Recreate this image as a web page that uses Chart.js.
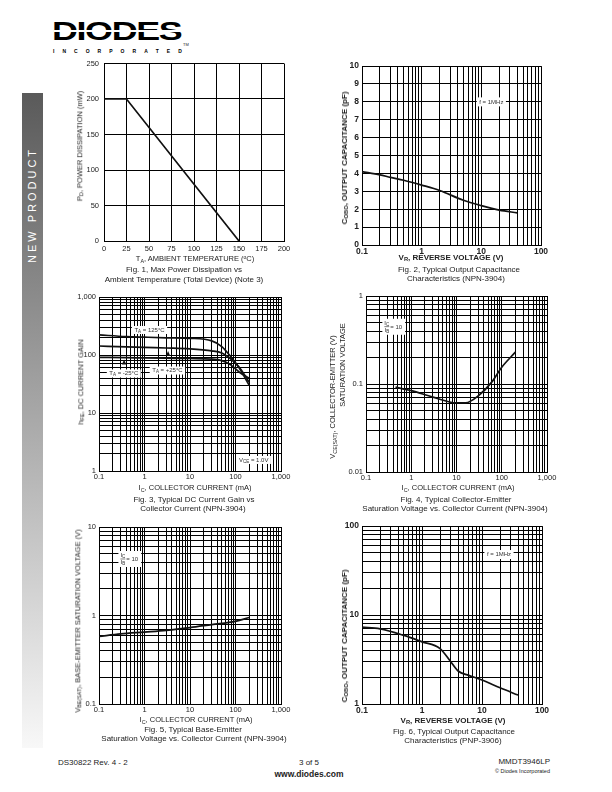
<!DOCTYPE html>
<html>
<head>
<meta charset="utf-8">
<script src="https://cdn.jsdelivr.net/npm/chart.js@4.4.0/dist/chart.umd.min.js"></script>
<style>
body { margin: 0; background: #fff; font-family: "Liberation Sans", Arial, sans-serif; color: #222; }
#page { position: relative; width: 612px; height: 792px; overflow: hidden; }
.t { position: absolute; white-space: nowrap; transform: translate(-50%, -50%); line-height: 1; }
.r { position: absolute; white-space: nowrap; transform: translate(-50%, -50%) rotate(-90deg); line-height: 1; }
sub { font-size: 72%; vertical-align: -0.25em; line-height: 0; }
sup { font-size: 65%; vertical-align: 0.45em; line-height: 0; }
canvas { position: absolute; }
</style>
</head>
<body>
<div id="page">
  <div style="position:absolute;left:22px;top:93px;width:21px;height:655px;background:linear-gradient(#5a5a5a,#f8f8f8)"></div>
  <div class="r" style="left:32px;top:205px;color:#fff;font-size:11px;letter-spacing:3px">NEW PRODUCT</div>

  <div style="position:absolute;left:52px;top:18px;font:900 26px/26px 'Liberation Sans',Arial,sans-serif;letter-spacing:-1px;transform:scaleX(1.38);transform-origin:left top;color:#000">DIODES</div>
  <div style="position:absolute;left:54px;top:30px;width:128px;height:1.5px;background:#fff"></div>
  <div style="position:absolute;left:53px;top:48px;width:129px;display:flex;justify-content:space-between;font:bold 5px 'Liberation Sans',Arial,sans-serif;color:#000">
    <span>I</span><span>N</span><span>C</span><span>O</span><span>R</span><span>P</span><span>O</span><span>R</span><span>A</span><span>T</span><span>E</span><span>D</span>
  </div>
  <div style="position:absolute;left:183px;top:42px;font-size:4px">TM</div>

  <div class="t" style="left:58px;top:763px;font-size:8px;transform:translate(0,-50%)">DS30822 Rev. 4 - 2</div>
  <div class="t" style="left:309px;top:763px;font-size:8px">3 of 5</div>
  <div class="t" style="left:309px;top:774px;font-size:8.5px;font-weight:bold">www.diodes.com</div>
  <div class="t" style="left:550px;top:762px;font-size:8px;transform:translate(-100%,-50%)">MMDT3946LP</div>
  <div class="t" style="left:550px;top:772px;font-size:5.5px;transform:translate(-100%,-50%)">© Diodes Incorporated</div>
</div>

<script>
// ---- data ----
// Fig 1
const tempC = [0, 25, 150];
const powerMW = [200, 200, 0];
const tempTicks = [0, 25, 50, 75, 100, 125, 150, 175, 200];
const powerTicks = [0, 50, 100, 150, 200, 250];

// Fig 2 (NPN-3904)
const vr2 = [0.1, 0.2, 0.3, 0.5, 1, 2, 5, 10, 20, 40];
const cobo2 = [4.1, 3.92, 3.78, 3.62, 3.35, 3.05, 2.5, 2.2, 1.95, 1.8];
const capTicks2 = [0, 1, 2, 3, 4, 5, 6, 7, 8, 9, 10];

// Fig 3 (NPN-3904)
const ic3 = [0.1, 0.4, 1, 3, 10, 30, 50, 80, 120, 200];
const hfe125 = [222, 208, 203, 198, 194, 175, 140, 92, 60, 30];
const hfe25 = [143, 138, 135, 132, 128, 118, 108, 84, 62, 34];
const hfeM25 = [91, 90, 89, 88, 87, 85, 80, 67, 51, 40];

// Fig 4 (NPN-3904)
const ic4 = [0.45, 1, 3, 10, 16, 30, 60, 100, 200];
const vceSat = [0.092, 0.084, 0.071, 0.061, 0.061, 0.073, 0.105, 0.155, 0.23];

// Fig 5 (NPN-3904)
const ic5 = [0.1, 0.3, 1, 3, 10, 30, 100, 200];
const vbeSat = [0.58, 0.62, 0.65, 0.68, 0.73, 0.79, 0.86, 0.95];

// Fig 6 (PNP-3906)
const vr6 = [0.1, 0.2, 0.5, 1, 2, 3, 4, 6, 10, 20, 40];
const cobo6 = [7.3, 7.0, 5.9, 5.0, 4.2, 3.0, 2.35, 2.1, 1.86, 1.52, 1.26];

// decade tick labels
const currentLabels = ['0.1', '1', '10', '100', '1,000'];
const voltLabels = ['0.1', '1', '10', '100'];
const hfeLabels = ['1', '10', '100', '1,000'];
const vceLabels = ['0.01', '0.1', '1'];
const vbeLabels = ['0.1', '1', '10'];
const cap6Labels = ['1', '10', '100'];

// ---- helpers ----
const page = document.getElementById('page');
const FONT = '"Liberation Sans", Arial, sans-serif';
const YW = 34, PT = 8, PR = 18, XH = 16;

function txt(html, x, y, size, opts = {}) {
  const d = document.createElement('div');
  d.className = opts.rot ? 'r' : 't';
  d.style.left = x + 'px';
  d.style.top = y + 'px';
  d.style.fontSize = size + 'px';
  if (opts.bold) d.style.fontWeight = 'bold';
  d.innerHTML = html;
  page.appendChild(d);
}

const num = s => parseFloat(s.replace(/,/g, ''));

// grid values of a log axis: 1..9 within each decade
function logGrid(labels) {
  const dec = labels.map(num), out = [];
  for (let i = 0; i < dec.length - 1; i++)
    for (let m = 1; m < 10; m++) out.push(+(dec[i] * m).toPrecision(4));
  out.push(dec[dec.length - 1]);
  return out;
}

function axis(isX, type, labels, gridVals, font, pad) {
  const vals = labels.map(l => typeof l === 'number' ? l : num(l));
  const text = labels.map(String);
  return {
    type: type,
    min: vals[0],
    max: vals[vals.length - 1],
    afterBuildTicks: s => { s.ticks = gridVals.map(v => ({ value: v })); },
    afterFit: s => { if (isX) s.height = XH; else s.width = YW; },
    ticks: {
      autoSkip: false, maxRotation: 0, minRotation: 0, padding: pad, font: font, color: '#222',
      callback: v => {
        const i = vals.findIndex(d => Math.abs(d - v) <= Math.abs(d) * 1e-6 + 1e-12);
        return i >= 0 ? text[i] : '';
      }
    },
    grid: { color: '#000', lineWidth: 1, drawTicks: false },
    border: { color: '#000', width: 1 }
  };
}

function series(xs, ys, smooth) {
  return {
    data: xs.map((x, i) => ({ x: x, y: ys[i] })),
    borderColor: '#111', borderWidth: 1.7, pointRadius: 0, fill: false,
    cubicInterpolationMode: smooth ? 'monotone' : 'default', tension: 0
  };
}

// small labels drawn inside the plots, anchored in data units
const notesPlugin = {
  id: 'notes',
  afterDatasetsDraw(chart, args, opts) {
    const ctx = chart.ctx, sx = chart.scales.x, sy = chart.scales.y;
    const fs = 6;
    const parts = s => s.split(/(_\{[^}]*\})/).filter(p => p).map(p =>
      p.startsWith('_{') ? { t: p.slice(2, -1), sub: true } : { t: p, sub: false });
    const width = ps => ps.reduce((w, p) => {
      ctx.font = (p.sub ? fs * 0.75 : fs) + 'px ' + FONT;
      return w + ctx.measureText(p.t).width;
    }, 0);
    const draw = (ps, x, y) => {
      ps.forEach(p => {
        ctx.font = (p.sub ? fs * 0.75 : fs) + 'px ' + FONT;
        ctx.fillText(p.t, x, p.sub ? y + 1.5 : y);
        x += ctx.measureText(p.t).width;
      });
    };
    ctx.save();
    ctx.textBaseline = 'middle';
    ctx.textAlign = 'left';
    (opts.items || []).forEach(n => {
      const cx = sx.getPixelForValue(n.x), cy = sy.getPixelForValue(n.y);
      if (n.arrow) {
        ctx.fillStyle = '#111';
        ctx.beginPath();
        ctx.moveTo(cx, cy);
        ctx.lineTo(cx - 2.2, cy + 5);
        ctx.lineTo(cx + 2.2, cy + 5);
        ctx.closePath();
        ctx.fill();
        return;
      }
      if (n.frac) {
        const a = parts(n.frac[0]), b = parts(n.frac[1]), c = parts(n.frac[2]);
        const wa = Math.max(width(a), width(b)), wc = width(c);
        const W = wa + wc + 6, H = 16;
        ctx.fillStyle = '#fff';
        ctx.fillRect(cx - W / 2, cy - H / 2, W, H);
        ctx.fillStyle = '#333';
        const x0 = cx - W / 2 + 2;
        draw(a, x0 + (wa - width(a)) / 2, cy - 3.8);
        draw(b, x0 + (wa - width(b)) / 2, cy + 3.2);
        ctx.fillRect(x0, cy - 0.3, wa, 0.6);
        draw(c, x0 + wa + 1, cy + 0.5);
        return;
      }
      const ps = parts(n.text), W = width(ps) + 5, H = n.h || 8;
      ctx.fillStyle = '#fff';
      ctx.fillRect(cx - W / 2, cy - H / 2, W, H);
      ctx.fillStyle = '#333';
      draw(ps, cx - W / 2 + 2.5, cy);
    });
    ctx.restore();
  }
};

function makeChart(area, datasets, xAxis, yAxis, notes) {
  const cv = document.createElement('canvas');
  const w = area.w + YW + PR, h = area.h + PT + XH;
  cv.width = w; cv.height = h;
  cv.style.left = (area.x - YW) + 'px';
  cv.style.top = (area.y - PT) + 'px';
  cv.style.width = w + 'px';
  cv.style.height = h + 'px';
  page.appendChild(cv);
  new Chart(cv.getContext('2d'), {
    type: 'line',
    data: { datasets: datasets },
    options: {
      responsive: false, animation: false, devicePixelRatio: 1,
      layout: { padding: { top: PT, right: PR, left: 0, bottom: 0 } },
      plugins: { legend: { display: false }, tooltip: { enabled: false }, notes: { items: notes || [] } },
      scales: { x: xAxis, y: yAxis }
    },
    plugins: [notesPlugin]
  });
}

const reg = { size: 7.5, family: FONT };
const bold = { size: 8.5, family: FONT, weight: 'bold' };

// Fig 1
makeChart({ x: 104, y: 62, w: 180, h: 179 },
  [series(tempC, powerMW, false)],
  axis(true, 'linear', tempTicks, tempTicks, reg, 3),
  axis(false, 'linear', powerTicks, powerTicks, reg, 5));
txt('P<sub>D</sub>, POWER DISSIPATION (mW)', 80, 146, 7.5, { rot: true });
txt('T<sub>A</sub>, AMBIENT TEMPERATURE (<sup>o</sup>C)', 195, 259, 7.5);
txt('Fig. 1, Max Power Dissipation vs', 184, 270, 8);
txt('Ambient Temperature (Total Device) (Note 3)', 184, 280, 8);

// Fig 2
makeChart({ x: 362, y: 66, w: 179, h: 179 },
  [series(vr2, cobo2, true)],
  axis(true, 'logarithmic', voltLabels, logGrid(voltLabels), bold, 2),
  axis(false, 'linear', capTicks2, capTicks2, bold, 3),
  [{ x: 14.7, y: 8, text: 'f = 1MHz', h: 9 }]);
txt('C<sub>OBO</sub>, OUTPUT CAPACITANCE (pF)', 345, 158, 8, { rot: true, bold: true });
txt('V<sub>R</sub>, REVERSE VOLTAGE (V)', 451, 258, 8, { bold: true });
txt('Fig. 2, Typical Output Capacitance', 459, 270, 8);
txt('Characteristics (NPN-3904)', 456, 279, 8);

// Fig 3
makeChart({ x: 99, y: 297, w: 182, h: 174 },
  [series(ic3, hfe125, true), series(ic3, hfe25, true), series(ic3, hfeM25, true)],
  axis(true, 'logarithmic', currentLabels, logGrid(currentLabels), reg, 1),
  axis(false, 'logarithmic', hfeLabels, logGrid(hfeLabels), reg, 3),
  [
    { x: 1.29, y: 270, text: 'T_{A} = 125°C' },
    { x: 0.35, y: 48, text: 'T_{A} = -25°C' },
    { x: 3.19, y: 54, text: 'T_{A} = +25°C' },
    { x: 251, y: 1.55, text: 'V_{CE} = 1.0V' },
    { x: 0.356, y: 84, arrow: true },
    { x: 3.3, y: 117, arrow: true }
  ]);
txt('h<sub>FE</sub>, DC CURRENT GAIN', 81, 382, 7.5, { rot: true });
txt('I<sub>C</sub>, COLLECTOR CURRENT (mA)', 195, 488, 7.5);
txt('Fig. 3, Typical DC Current Gain vs', 194, 500, 8);
txt('Collector Current (NPN-3904)', 193, 509, 8);

// Fig 4
makeChart({ x: 366, y: 296, w: 181, h: 176 },
  [series(ic4, vceSat, true)],
  axis(true, 'logarithmic', currentLabels, logGrid(currentLabels), reg, 1),
  axis(false, 'logarithmic', vceLabels, logGrid(vceLabels), reg, 3),
  [{ x: 0.41, y: 0.447, frac: ['I_{C}', 'I_{B}', '= 10'] }]);
txt('V<sub>CE(SAT)</sub>, COLLECTOR-EMITTER (V)', 333, 397, 7.5, { rot: true });
txt('SATURATION VOLTAGE', 343, 365, 7.5, { rot: true });
txt('I<sub>C</sub>, COLLECTOR CURRENT (mA)', 458, 488, 7.5);
txt('Fig. 4, Typical Collector-Emitter', 456, 500, 8);
txt('Saturation Voltage vs. Collector Current (NPN-3904)', 455, 509, 8);

// Fig 5
makeChart({ x: 99, y: 527, w: 182, h: 177 },
  [series(ic5, vbeSat, true)],
  axis(true, 'logarithmic', currentLabels, logGrid(currentLabels), reg, 1),
  axis(false, 'logarithmic', vbeLabels, logGrid(vbeLabels), reg, 3),
  [{ x: 0.475, y: 4.35, frac: ['I_{C}', 'I_{B}', '= 10'] }]);
txt('V<sub>BE(SAT)</sub>, BASE-EMITTER SATURATION VOLTAGE (V)', 78, 621, 7.5, { rot: true });
txt('I<sub>C</sub>, COLLECTOR CURRENT (mA)', 196, 720, 7.5);
txt('Fig. 5, Typical Base-Emitter', 193, 730, 8);
txt('Saturation Voltage vs. Collector Current (NPN-3904)', 194, 739, 8);

// Fig 6
makeChart({ x: 362, y: 526, w: 180, h: 178 },
  [series(vr6, cobo6, true)],
  axis(true, 'logarithmic', voltLabels, logGrid(voltLabels), bold, 2),
  axis(false, 'logarithmic', cap6Labels, logGrid(cap6Labels), bold, 3),
  [{ x: 19.2, y: 47.9, text: 'f = 1MHz', h: 9 }]);
txt('C<sub>OBO</sub>, OUTPUT CAPACITANCE (pF)', 345, 636, 8, { rot: true, bold: true });
txt('V<sub>R</sub>, REVERSE VOLTAGE (V)', 453, 721, 8, { bold: true });
txt('Fig. 6, Typical Output Capacitance', 454, 732, 8);
txt('Characteristics (PNP-3906)', 453, 741, 8);
</script>
</body>
</html>
